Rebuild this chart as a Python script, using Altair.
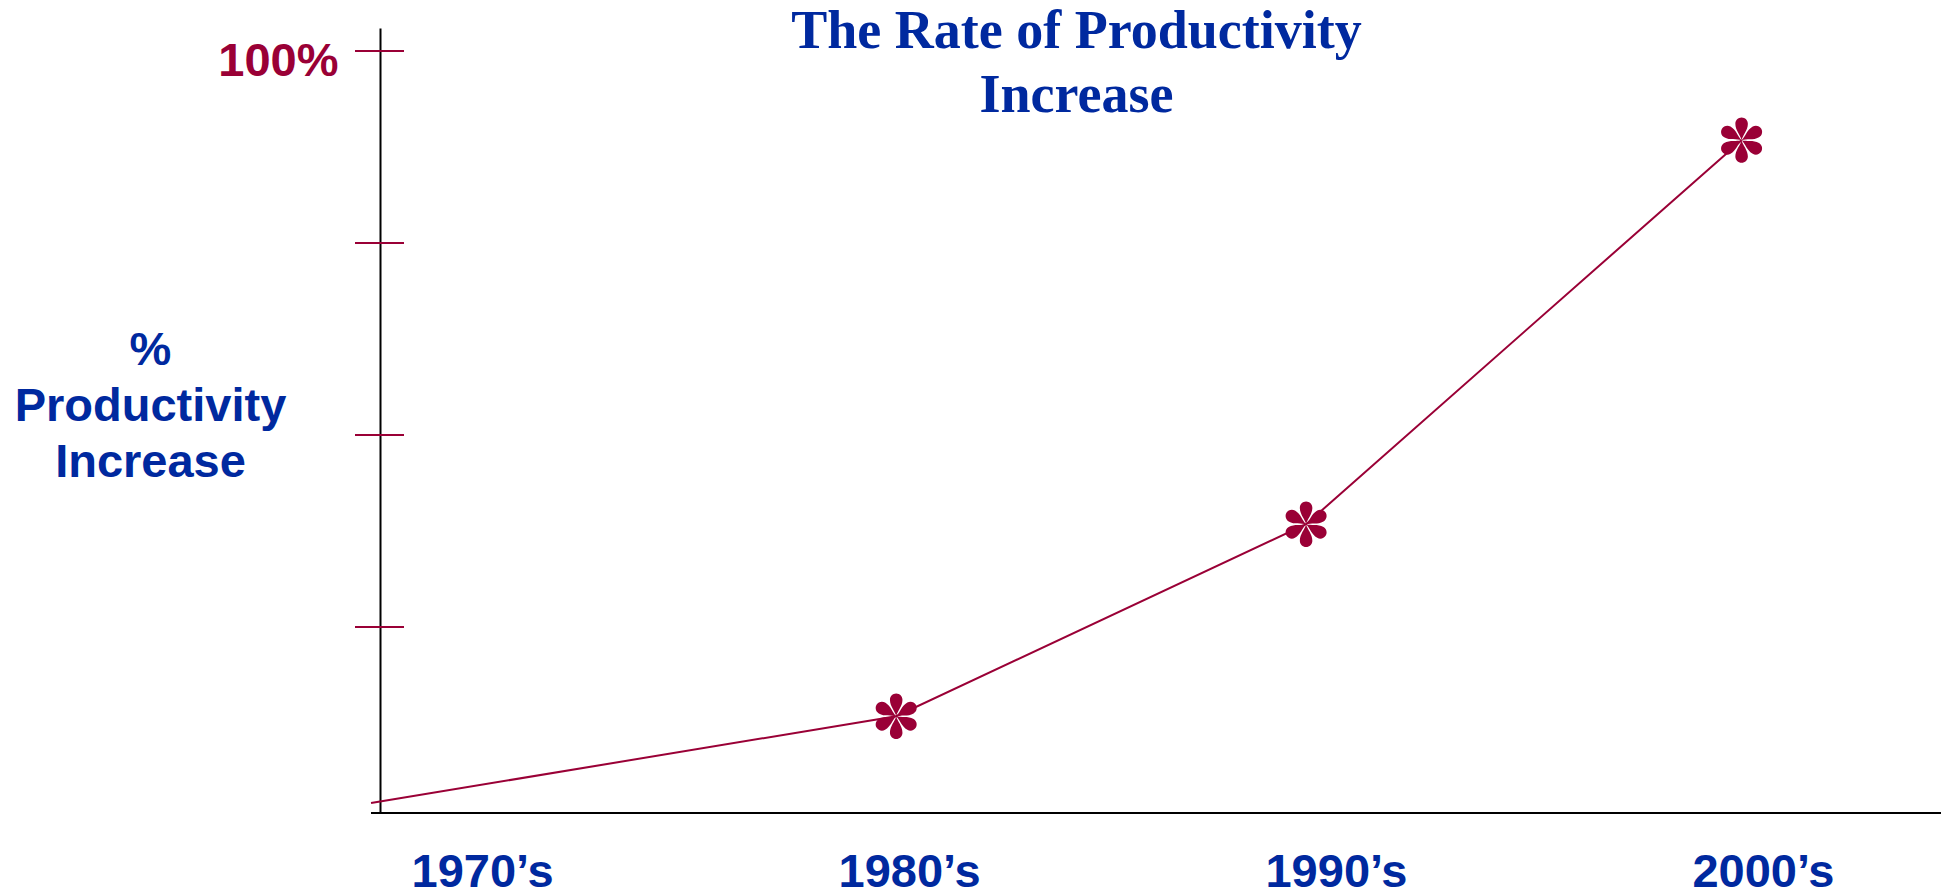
import math
import altair as alt
import pandas as pd

# ---- data ----
decade_labels = [1970, 1980, 1990, 2000]
point_year = [1967.4, 1979.7, 1989.3, 1999.5]
point_pct = [2.1, 13.4, 38.4, 88.4]
has_marker = [False, True, True, True]
tick_pct = [25, 50, 75, 100]
y_label_values = [100]
title_lines = ["The Rate of Productivity", "Increase"]
y_title_lines = ["%", "Productivity", "Increase"]

CRIMSON = "#9A0036"
BLUE = "#00299F"
SANS = "Liberation Sans"
SERIF = "Liberation Serif"

W, H = 1561, 785
X_DOMAIN = [1967.61, 2004.17]
Y_DOMAIN = [0.8, 103]

# six-petal asterisk marker shape (unit box -1..1)
R = 0.27
CY = -0.71
def petal_path():
    base = [(-0.05, -0.22), (-R, -0.42), (-R, CY)]
    back = [(R, -0.42), (0.05, -0.22), (0.0, 0.0)]
    parts = []
    for k in range(6):
        t = math.radians(60 * k)
        c, s = math.cos(t), math.sin(t)
        rot = lambda p: (p[0] * c - p[1] * s, p[0] * s + p[1] * c)
        a, b, p1 = [rot(p) for p in base]
        p2 = rot((R, CY))
        d, e, f = [rot(p) for p in back]
        parts.append(
            f"M0,0 C{a[0]:.3f},{a[1]:.3f} {b[0]:.3f},{b[1]:.3f} {p1[0]:.3f},{p1[1]:.3f} "
            f"A{R},{R} 0 1 1 {p2[0]:.3f},{p2[1]:.3f} "
            f"C{d[0]:.3f},{d[1]:.3f} {e[0]:.3f},{e[1]:.3f} {f[0]:.3f},{f[1]:.3f} Z"
        )
    return " ".join(parts)

SHAPE = petal_path()

line_df = pd.DataFrame({"year": point_year, "pct": point_pct, "marker": has_marker})
tick_df = pd.DataFrame({"tick": tick_pct})

x_scale = alt.Scale(domain=X_DOMAIN, nice=False, zero=False)
y_scale = alt.Scale(domain=Y_DOMAIN, nice=False, zero=False)

x_axis = alt.Axis(
    values=decade_labels,
    labelExpr="datum.value + '\u2019s'",
    ticks=False, domain=False, grid=False, title=None,
    labelFont=SANS, labelFontSize=47, labelFontWeight="bold", labelColor=BLUE,
    labelPadding=73, labelBaseline="alphabetic", labelFlush=False, labelOverlap=False,
)
y_axis = alt.Axis(
    values=y_label_values,
    labelExpr="datum.value + '%'",
    ticks=False, grid=False, domain=True, domainColor="black", domainWidth=2,
    labelFont=SANS, labelFontSize=47, labelFontWeight="bold", labelColor=CRIMSON,
    labelPadding=42, labelBaseline="alphabetic", labelOffset=24,
    title=y_title_lines, titleAngle=0, titleX=-230, titleY=336,
    titleAlign="center", titleBaseline="alphabetic", titleLineHeight=56,
    titleFont=SANS, titleFontSize=47, titleFontWeight="bold", titleColor=BLUE,
)

base = alt.Chart(line_df)

line = base.mark_line(color=CRIMSON, strokeWidth=2).encode(
    x=alt.X("year:Q", scale=x_scale, axis=x_axis),
    y=alt.Y("pct:Q", scale=y_scale, axis=y_axis),
)

markers = base.transform_filter("datum.marker").mark_point(
    shape=SHAPE, filled=True, size=2150, color=CRIMSON, strokeWidth=0, opacity=1
).encode(
    x=alt.X("year:Q", scale=x_scale),
    y=alt.Y("pct:Q", scale=y_scale),
)

ticks = alt.Chart(tick_df).mark_rule(color=CRIMSON, strokeWidth=2).encode(
    y=alt.Y("tick:Q", scale=y_scale),
    x=alt.value(-25),
    x2=alt.value(24),
)

x_line = alt.Chart(tick_df).mark_rule(color="black", strokeWidth=2).encode(
    x=alt.value(-9),
    x2=alt.value(W),
    y=alt.value(H),
)

chart = alt.layer(ticks, x_line, line, markers).properties(
    width=W,
    height=H,
    background="white",
    padding={"left": 380, "top": 28, "right": 6, "bottom": 83},
    autosize=alt.AutoSizeParams(type="none"),
    title=alt.TitleParams(
        text=title_lines, font=SERIF, fontSize=54, fontWeight="bold", color=BLUE,
        anchor="middle", frame="group", dx=-84, dy=138, baseline="alphabetic",
        lineHeight=64, offset=0,
    ),
).configure_view(stroke=None, strokeWidth=0)

chart.save("out.html", embed_options={"renderer": "svg", "actions": False})
